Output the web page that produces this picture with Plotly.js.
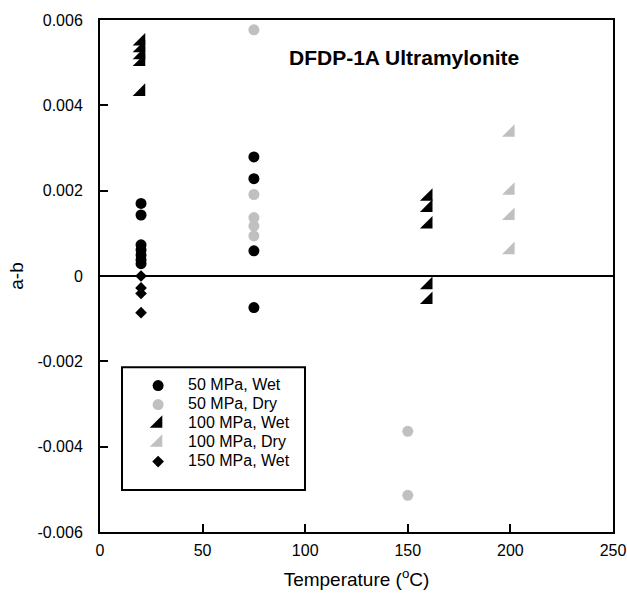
<!DOCTYPE html>
<html>
<head>
<meta charset="utf-8">
<script src="https://cdn.plot.ly/plotly-3.0.1.min.js"></script>
<style>
body{margin:0;padding:0;background:#fff}
#chart .legend .legendtext{font-size:16px !important;}
#chart .legend .scrollbox{clip-path:none !important;}
</style>
</head>
<body>
<div id="chart" style="width:627px;height:598px"></div>
<script>
// Data
const wet50_T = [20, 20, 20, 20, 20, 20, 20, 75, 75, 75, 75];
const wet50_ab = [0.0017, 0.00143, 0.00073, 0.00061, 0.00049, 0.00038, 0.00029, 0.00279, 0.00228, 0.00059, -0.00074];

const dry50_T = [75, 75, 75, 75, 75, 150, 150];
const dry50_ab = [0.00577, 0.00191, 0.00137, 0.00117, 0.00094, -0.00364, -0.00514];

const wet100_T = [20, 20, 20, 20, 20, 160, 160, 160, 160, 160];
const wet100_ab = [0.00550, 0.00534, 0.00518, 0.00502, 0.00432, 0.00186, 0.00160, 0.00121, -0.00021, -0.00056];

const dry100_T = [200, 200, 200, 200];
const dry100_ab = [0.00336, 0.00200, 0.00141, 0.00061];

const wet150_T = [20, 20, 20, 20];
const wet150_ab = [0.0, -0.00028, -0.00041, -0.00086];

const yTickVals = [-0.006, -0.004, -0.002, 0, 0.002, 0.004, 0.006];
const yTickText = ["-0.006", "-0.004", "-0.002", "0", "0.002", "0.004", "0.006"];
const xTickVals = [0, 50, 100, 150, 200, 250];
const xTickText = ["0", "50", "100", "150", "200", "250"];

const FONT = "Arial, 'Liberation Sans', Helvetica, sans-serif";
const BLACK = "#000000";
const GRAY = "#c0c0c0";

const traces = [
  {x: wet50_T, y: wet50_ab, name: "50 MPa, Wet", type: "scatter", mode: "markers",
   marker: {symbol: "circle", size: 11, color: BLACK}},
  {x: dry50_T, y: dry50_ab, name: "50 MPa, Dry", type: "scatter", mode: "markers",
   marker: {symbol: "circle", size: 11, color: GRAY}},
  {x: wet100_T, y: wet100_ab, name: "100 MPa, Wet", type: "scatter", mode: "markers",
   marker: {symbol: "triangle-se", size: 14, color: BLACK}},
  {x: dry100_T, y: dry100_ab, name: "100 MPa, Dry", type: "scatter", mode: "markers",
   marker: {symbol: "triangle-se", size: 14, color: GRAY}},
  {x: wet150_T, y: wet150_ab, name: "150 MPa, Wet", type: "scatter", mode: "markers",
   marker: {symbol: "diamond", size: 9, color: BLACK}}
];

const layout = {
  width: 627, height: 598,
  margin: {l: 100, r: 14, t: 20, b: 66},
  paper_bgcolor: "#fff", plot_bgcolor: "#fff",
  font: {family: FONT, size: 16, color: BLACK},
  showlegend: true,
  legend: {
    x: 0.0548, y: 0.3144, xanchor: "left", yanchor: "top",
    borderwidth: 0, bgcolor: "rgba(0,0,0,0)",
    font: {family: FONT, size: 12, color: BLACK},
    itemwidth: 50
  },
  shapes: [{
    type: "rect", xref: "paper", yref: "paper",
    x0: 0.0429, x1: 0.3996, y0: 0.082, y1: 0.322,
    line: {color: BLACK, width: 2}, fillcolor: "rgba(0,0,0,0)", layer: "above"
  }],
  xaxis: {
    range: [0, 250], tickvals: xTickVals, ticktext: xTickText,
    ticks: "inside", ticklen: 8, tickwidth: 2, tickcolor: BLACK,
    showline: true, linecolor: BLACK, linewidth: 2, mirror: true,
    showgrid: false, zeroline: false,
    tickfont: {family: FONT, size: 16},
    ticklabelstandoff: 3,
    title: {text: "Temperature (<sup>o</sup>C)", font: {family: FONT, size: 19}, standoff: 14}
  },
  yaxis: {
    range: [-0.006, 0.006], tickvals: yTickVals, ticktext: yTickText,
    ticks: "inside", ticklen: 8, tickwidth: 2, tickcolor: BLACK,
    showline: true, linecolor: BLACK, linewidth: 2, mirror: true,
    showgrid: false, zeroline: true, zerolinecolor: BLACK, zerolinewidth: 2,
    tickfont: {family: FONT, size: 16},
    ticklabelstandoff: 12,
    title: {text: "a-b", font: {family: FONT, size: 19}, standoff: 9}
  },
  annotations: [{
    xref: "paper", yref: "paper", x: 0.593, y: 0.926,
    xanchor: "center", yanchor: "middle", showarrow: false,
    text: "<b>DFDP-1A Ultramylonite</b>",
    font: {family: FONT, size: 21, color: BLACK}
  }]
};

Plotly.newPlot("chart", traces, layout, {displayModeBar: false, staticPlot: true});
</script>
</body>
</html>
